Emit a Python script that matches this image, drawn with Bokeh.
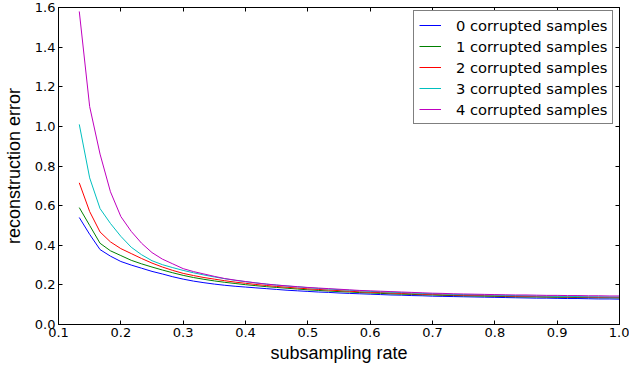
from bokeh.plotting import figure
from bokeh.models import (Range1d, FixedTicker, PrintfTickFormatter, LinearAxis, Legend,
                          LegendItem, CustomLabelingPolicy)
from bokeh.embed import file_html
from bokeh.resources import INLINE

# subsampling rates (8/60 ... 60/60)
rates = [k / 60 for k in range(8, 61)]

err_0 = [0.540, 0.455, 0.378, 0.345, 0.318, 0.300, 0.284, 0.268, 0.255, 0.241,
         0.229, 0.219, 0.211, 0.204, 0.198, 0.193, 0.189, 0.185, 0.181, 0.177,
         0.173, 0.170, 0.167, 0.164, 0.162, 0.159, 0.157, 0.155, 0.153, 0.151,
         0.149, 0.148, 0.146, 0.145, 0.143, 0.142, 0.141, 0.140, 0.139, 0.138,
         0.137, 0.136, 0.135, 0.134, 0.133, 0.133, 0.132, 0.131, 0.131, 0.130,
         0.129, 0.129, 0.128]
err_1 = [0.590, 0.500, 0.410, 0.372, 0.348, 0.324, 0.306, 0.290, 0.275, 0.261,
         0.248, 0.237, 0.228, 0.220, 0.213, 0.207, 0.201, 0.196, 0.191, 0.187,
         0.183, 0.179, 0.175, 0.172, 0.169, 0.166, 0.164, 0.161, 0.159, 0.157,
         0.155, 0.153, 0.152, 0.150, 0.149, 0.147, 0.146, 0.145, 0.144, 0.143,
         0.142, 0.141, 0.140, 0.139, 0.139, 0.138, 0.137, 0.137, 0.136, 0.136,
         0.135, 0.135, 0.134]
err_2 = [0.715, 0.570, 0.467, 0.417, 0.383, 0.358, 0.333, 0.310, 0.290, 0.273,
         0.258, 0.247, 0.237, 0.229, 0.221, 0.214, 0.208, 0.202, 0.197, 0.192,
         0.188, 0.184, 0.180, 0.177, 0.174, 0.171, 0.168, 0.165, 0.163, 0.161,
         0.159, 0.157, 0.155, 0.153, 0.152, 0.150, 0.149, 0.148, 0.147, 0.146,
         0.145, 0.144, 0.143, 0.142, 0.141, 0.140, 0.140, 0.139, 0.139, 0.138,
         0.137, 0.137, 0.136]
err_3 = [1.010, 0.740, 0.585, 0.510, 0.445, 0.390, 0.352, 0.322, 0.302, 0.287,
         0.273, 0.261, 0.250, 0.240, 0.231, 0.223, 0.216, 0.210, 0.204, 0.199,
         0.194, 0.190, 0.186, 0.182, 0.179, 0.176, 0.173, 0.170, 0.167, 0.165,
         0.163, 0.161, 0.159, 0.157, 0.155, 0.154, 0.152, 0.151, 0.150, 0.149,
         0.148, 0.147, 0.146, 0.145, 0.144, 0.143, 0.142, 0.142, 0.141, 0.140,
         0.140, 0.139, 0.139]
err_4 = [1.580, 1.100, 0.860, 0.670, 0.545, 0.470, 0.410, 0.363, 0.330, 0.306,
         0.282, 0.267, 0.255, 0.243, 0.232, 0.224, 0.217, 0.210, 0.204, 0.199,
         0.195, 0.191, 0.187, 0.184, 0.181, 0.178, 0.175, 0.172, 0.170, 0.168,
         0.166, 0.164, 0.162, 0.160, 0.158, 0.157, 0.155, 0.154, 0.153, 0.152,
         0.151, 0.150, 0.149, 0.149, 0.148, 0.147, 0.147, 0.146, 0.146, 0.145,
         0.145, 0.144, 0.144]

series = [err_0, err_1, err_2, err_3, err_4]
labels = ["0 corrupted samples", "1 corrupted samples", "2 corrupted samples",
          "3 corrupted samples", "4 corrupted samples"]
colors = ["#0000ff", "#008000", "#ff0000", "#00bfbf", "#bf00bf"]

x_ticks = [0.1, 0.2, 0.3, 0.4, 0.5, 0.6, 0.7, 0.8, 0.9, 1.0]
y_ticks = [0.0, 0.2, 0.4, 0.6, 0.8, 1.0, 1.2, 1.4, 1.6]

p = figure(width=629, height=375, output_backend="svg", toolbar_location=None,
           x_range=Range1d(0.1, 1.0), y_range=Range1d(0.0, 1.6),
           min_border_left=58, min_border_right=10, min_border_top=7, min_border_bottom=51,
           x_axis_label="subsampling rate", y_axis_label="reconstruction error")
p.grid.visible = False
p.outline_line_color = "black"
p.outline_line_width = 1
p.background_fill_color = "white"
p.border_fill_color = "white"

for ax, ticks in ((p.xaxis[0], x_ticks), (p.yaxis[0], y_ticks)):
    ax.ticker = FixedTicker(ticks=ticks)
    ax.formatter = PrintfTickFormatter(format="%.1f")
    ax.major_tick_in = 4
    ax.major_tick_out = 0
    ax.minor_tick_line_color = None
    ax.major_label_text_font = "DejaVu Sans"
    ax.major_label_text_font_size = "13px"
    ax.major_label_text_color = "black"
    ax.major_label_standoff = 3
    ax.axis_label_text_font = "Liberation Sans"
    ax.axis_label_text_font_size = "18px"
    ax.axis_label_text_font_style = "normal"
    ax.axis_label_text_color = "black"
    ax.axis_line_color = "black"
    ax.major_tick_line_color = "black"
p.xaxis[0].axis_label_standoff = 3
p.yaxis[0].axis_label_standoff = 8

top_ax = LinearAxis(ticker=FixedTicker(ticks=x_ticks), major_tick_in=4, major_tick_out=0,
                    minor_tick_line_color=None, major_label_text_font_size="0px",
                    major_label_policy=CustomLabelingPolicy(code="return new Set()"),
                    major_label_standoff=0, axis_line_color="black")
right_ax = LinearAxis(ticker=FixedTicker(ticks=y_ticks), major_tick_in=4, major_tick_out=0,
                      minor_tick_line_color=None, major_label_text_font_size="0px",
                      major_label_policy=CustomLabelingPolicy(code="return new Set()"),
                      major_label_standoff=0, axis_line_color="black")
p.add_layout(top_ax, "above")
p.add_layout(right_ax, "right")

items = []
for vals, lab, col in zip(series, labels, colors):
    r = p.line(rates, vals, line_color=col, line_width=1)
    items.append(LegendItem(label=lab, renderers=[r]))

legend = Legend(items=items)
legend.margin = 0
legend.padding = 5
legend.spacing = 3
legend.glyph_width = 22
legend.glyph_height = 18
legend.label_height = 18
legend.label_standoff = 15
legend.label_text_font = "DejaVu Sans"
legend.label_text_font_size = "14.7px"
legend.label_text_color = "black"
legend.border_line_color = "black"
legend.border_line_width = 1
legend.background_fill_color = "white"
legend.background_fill_alpha = 1.0
legend.location = (355, 200)
p.add_layout(legend)

open("out.html", "w").write(file_html(p, INLINE))
